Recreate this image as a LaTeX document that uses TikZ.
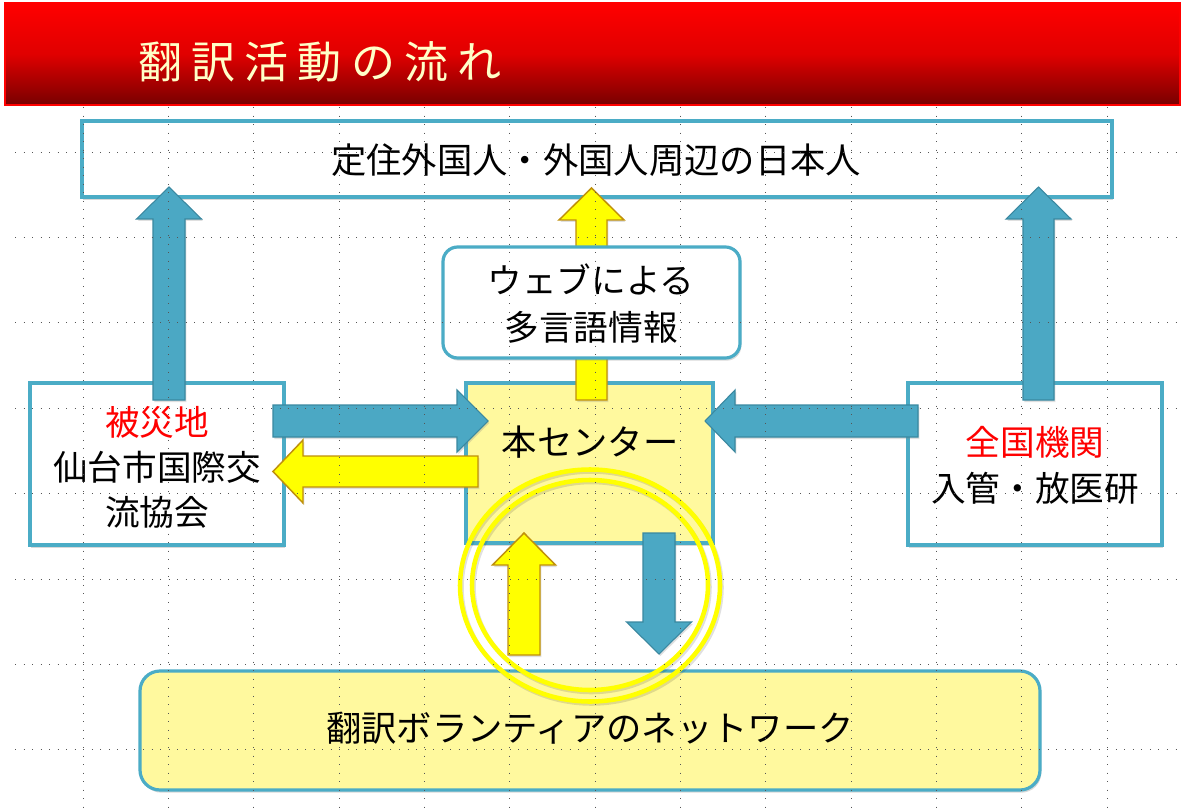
\documentclass[tikz,border=0pt]{standalone}
\usepackage{fontspec}
\setmainfont{Noto Sans CJK JP}
\usetikzlibrary{shadows,fit}
\definecolor{teal5}{HTML}{4BACC6}
\definecolor{arrblue}{HTML}{4BA8C4}
\definecolor{arrblueedge}{HTML}{3A88A0}
\definecolor{ayellow}{HTML}{FFFF00}
\definecolor{ayedge}{HTML}{C0900C}
\definecolor{lightyel}{HTML}{FFF99E}
\definecolor{cream}{HTML}{FFFFC8}
\definecolor{hdrdark}{HTML}{780000}
\definecolor{hdrmid}{HTML}{E00000}
\definecolor{gridcol}{HTML}{555555}
\newcommand\tsp{\hspace{7pt}}
\newcommand\myvarrow[7]{% style, cx, half shaft, half head, tip y, base y, tail y
  \draw[#1] ({#2-#3},#7) -- ({#2-#3},#6) -- ({#2-#4},#6) -- (#2,#5) -- ({#2+#4},#6) -- ({#2+#3},#6) -- ({#2+#3},#7) -- cycle;}
\newcommand\myharrow[7]{% style, cy, half shaft, half head, tip x, base x, tail x
  \draw[#1] (#7,{#2-#3}) -- (#6,{#2-#3}) -- (#6,{#2-#4}) -- (#5,#2) -- (#6,{#2+#4}) -- (#6,{#2+#3}) -- (#7,{#2+#3}) -- cycle;}
\begin{document}
\begin{tikzpicture}[x=0.75pt,y=-0.75pt,
  box/.style={draw=teal5, line width=2.4pt, fill=white, inner sep=0pt,
    drop shadow={shadow xshift=1pt, shadow yshift=-2pt, opacity=0.3}},
  ybox/.style={box, fill=lightyel},
  barrow/.style={fill=arrblue, draw=arrblueedge, line width=0.8pt, line join=miter,
    drop shadow={shadow xshift=1pt, shadow yshift=-1.5pt, opacity=0.25}},
  yarrow/.style={fill=ayellow, draw=ayedge, line width=1.1pt, line join=miter,
    drop shadow={shadow xshift=1pt, shadow yshift=-1.5pt, opacity=0.25}},
  ring/.style={draw=ayellow, line width=3.4pt},
  ringshadow/.style={draw=black, opacity=0.12, line width=3.4pt},
  gridline/.style={draw=gridcol, line width=0.7pt, dash pattern=on 0.7pt off 5.7pt},
  txt/.style={text=black, align=center, inner sep=0pt}]
\useasboundingbox (0,0) rectangle (1184,809);
\fill[white] (0,0) rectangle (1184,809);

% header
\node[fit={(5,3) (1180,105)}, inner sep=0pt, draw=red, line width=1pt,
  top color=red, bottom color=hdrdark, middle color=hdrmid] (header) {};
\node[font=\fontsize{33}{40}\selectfont, text=cream] (title) at (320,62)
  {翻\tsp 訳\tsp 活\tsp 動\tsp の\tsp 流\tsp れ};

% boxes
\node[box, fit={(82,121) (1112,197)}] (top) {};
\node[box, fit={(30,383) (284,545)}] (left) {};
\node[box, fit={(908,383) (1162,545)}] (right) {};
\node[ybox, fit={(466,383) (713,543)}] (center) {};
\node[ybox, rounded corners=15pt, fit={(140,671) (1040,790)}] (bottom) {};

% texts
\node[txt, font=\fontsize{26.5}{34.5}\selectfont] (toptxt) at (596,160) {定住外国人・外国人周辺の日本人};
\node[txt, font=\fontsize{26}{33.75}\selectfont] (lefttxt) at (157,467)
  {\textcolor{red}{被災地}\\仙台市国際交\\流協会};
\node[txt, font=\fontsize{26}{34.5}\selectfont] (righttxt) at (1035,465)
  {\textcolor{red}{全国機関}\\入管・放医研};
\node[txt, font=\fontsize{26.5}{34.5}\selectfont] (centertxt) at (590,442) {本センター};
\node[txt, font=\fontsize{26.5}{34.5}\selectfont] (bottomtxt) at (590,728) {翻訳ボランティアのネットワーク};

% big arrows
\myvarrow{barrow}{169}{16}{32.5}{187}{219}{400}
\myvarrow{barrow}{1038.5}{15.5}{32.5}{187}{219}{400}
\myvarrow{yarrow}{591.5}{15.5}{32.5}{188}{220}{400}
\myharrow{barrow}{421}{16}{31}{488}{457}{273}
\myharrow{yarrow}{471.5}{15.5}{31.5}{273}{303}{478}
\myharrow{barrow}{421}{16}{31}{705}{735}{918}

% web box over the yellow arrow
\node[box, rounded corners=11pt, fit={(443,247) (740,358)}] (web) {};
\node[txt, font=\fontsize{26}{35.25}\selectfont] (webtxt) at (591,303.5)
  {ウェブによる\\多言語情報};

% rings
\draw[ringshadow] (591.5,587.5) ellipse [x radius=130, y radius=116];
\draw[ringshadow] (591.5,587) ellipse [x radius=118, y radius=105];
\draw[ring] (590,585.5) ellipse [x radius=130, y radius=116];
\draw[ring] (590,585) ellipse [x radius=118, y radius=105];

% small arrows
\myvarrow{yarrow}{524}{16}{31.5}{533}{565}{655}
\myvarrow{barrow}{659}{16}{32.5}{654}{622}{533}

% grid overlay
\foreach \i in {0,...,7}
  \draw[gridline] (15,{152+85.4*\i}) -- (1184,{152+85.4*\i});
\foreach \i in {0,...,12}
  \draw[gridline] ({83+85.35*\i},107) -- ({83+85.35*\i},809);
\end{tikzpicture}
\end{document}
